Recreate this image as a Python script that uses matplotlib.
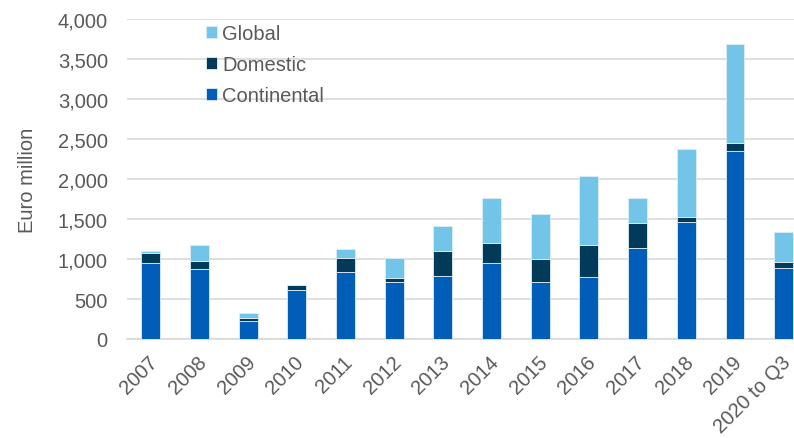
import matplotlib
matplotlib.use("Agg")
import numpy as np
from matplotlib import pyplot as plt
from matplotlib.transforms import ScaledTranslation

years = ['2007', '2008', '2009', '2010', '2011', '2012', '2013', '2014',
         '2015', '2016', '2017', '2018', '2019', '2020 to Q3']
continental = [946, 871, 221, 612, 842, 712, 787, 946, 708, 775, 1137, 1458, 2354, 892]
domestic = [129, 104, 37, 59, 166, 55, 313, 250, 292, 400, 317, 63, 92, 75]
global_ = [29, 200, 71, 5, 113, 250, 317, 566, 567, 867, 313, 854, 1238, 370]

c_cont = '#005EB8'
c_dom = '#023A5A'
c_glob = '#72C5E8'
grey = '#595959'
fs = 14.5

plt.rcParams['font.family'] = ['Liberation Sans', 'DejaVu Sans']

fig = plt.figure(figsize=(7.94, 4.39), dpi=100)
ax = fig.add_axes([126.6 / 794, 1 - 340 / 439, (808 - 126.6) / 794, 320 / 439])

x = np.arange(len(years))
cont = np.array(continental)
dom = np.array(domestic)
glob = np.array(global_)
w = 0.39
edge = dict(edgecolor='#DDEEF8', linewidth=0.6, zorder=3)
ax.bar(x, cont, w, color=c_cont, label='Continental', **edge)
ax.bar(x, dom, w, bottom=cont, color=c_dom, label='Domestic', **edge)
ax.bar(x, glob, w, bottom=cont + dom, color=c_glob, label='Global', **edge)

ax.set_xlim(-0.5, len(years) - 0.5)
ax.set_ylim(0, 4000)
ax.set_yticks(np.arange(0, 4001, 500))
ax.set_yticklabels([f'{v:,}' for v in range(0, 4001, 500)])
ax.set_xticks(x)
ax.set_xticklabels(years, rotation=45, ha='right', va='center', rotation_mode='anchor')
ax.tick_params(length=0, colors=grey, labelsize=fs)
ax.tick_params(axis='y', pad=13.5)
ax.tick_params(axis='x', pad=14)
shift = ScaledTranslation(4 / 100, 0, fig.dpi_scale_trans)
for lab in ax.get_xticklabels():
    lab.set_transform(lab.get_transform() + shift)

ax.grid(axis='y', color='#D9D9D9', linewidth=1.2, zorder=0)
ax.set_axisbelow(True)
for s in ['left', 'right', 'top']:
    ax.spines[s].set_visible(False)
ax.spines['bottom'].set_color('#D9D9D9')
ax.spines['bottom'].set_linewidth(1.2)

ax.set_ylabel('Euro million', color=grey, fontsize=fs, labelpad=15)

h, l = ax.get_legend_handles_labels()
leg = ax.legend(h[::-1], l[::-1], loc='upper left', bbox_to_anchor=(0.105, 1.01),
                frameon=False, fontsize=fs, handlelength=0.55, handleheight=0.55,
                handletextpad=0.25, labelspacing=0.6, borderaxespad=0)
for t in leg.get_texts():
    t.set_color(grey)

fig.savefig('out.png', dpi=100)
